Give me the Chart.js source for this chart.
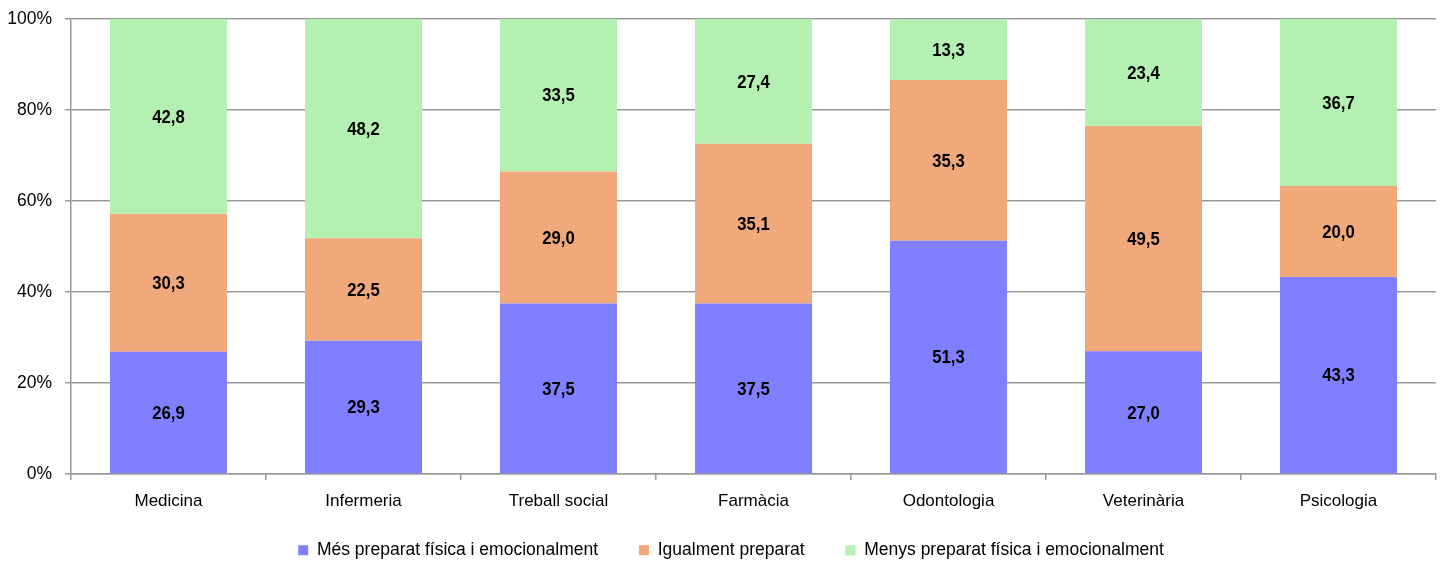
<!DOCTYPE html>
<html>
<head>
<meta charset="utf-8">
<script src="https://cdn.jsdelivr.net/npm/chart.js@4/dist/chart.umd.min.js"></script>
<style>
  html, body { margin: 0; padding: 0; background: #fff; }
  #wrap { width: 1446px; height: 565px; position: relative; }
</style>
</head>
<body>
<div id="wrap"><canvas id="grafic"></canvas></div>
<script>
// dades llegides del gràfic (%)
const categories = ["Medicina", "Infermeria", "Treball social", "Farmàcia", "Odontologia", "Veterinària", "Psicologia"];
const mesPreparat = [26.9, 29.3, 37.5, 37.5, 51.3, 27.0, 43.3];
const igualment = [30.3, 22.5, 29.0, 35.1, 35.3, 49.5, 20.0];
const menysPreparat = [42.8, 48.2, 33.5, 27.4, 13.3, 23.4, 36.7];
const yTicks = [0, 20, 40, 60, 80, 100];

const fontFamily = "'Liberation Sans Narrow', 'Arial Narrow', 'Liberation Sans', Arial, sans-serif";
const espaiLlegenda = '        '; // separació entre elements de la llegenda

// plugin per escriure el valor al mig de cada tram
const etiquetes = {
  id: 'etiquetes',
  afterDatasetsDraw(chart) {
    const ctx = chart.ctx;
    chart.data.datasets.forEach((ds, i) => {
      chart.getDatasetMeta(i).data.forEach((bar, j) => {
        const y = (bar.y + bar.base) / 2;
        ctx.save();
        ctx.translate(bar.x, y);
        ctx.scale(0.88, 1); // lletra estreta
        ctx.font = "bold 19px " + fontFamily;
        ctx.fillStyle = "#000";
        ctx.textAlign = "center";
        ctx.textBaseline = "middle";
        ctx.fillText(ds.data[j].toFixed(1).replace('.', ','), 0, 1);
        ctx.restore();
      });
    });
  }
};

// la llegenda de l'original està centrada sobre l'àrea del gràfic, no sobre el canvas
const moureLlegenda = {
  id: 'moureLlegenda',
  afterLayout(chart) {
    chart.legend.left += 13;
    chart.legend.right += 13;
  }
};

new Chart(document.getElementById('grafic'), {
  type: 'bar',
  data: {
    labels: categories,
    datasets: [
      { label: 'Més preparat física i emocionalment', data: mesPreparat, backgroundColor: '#7F7FFF' },
      { label: 'Igualment preparat', data: igualment, backgroundColor: '#F1A97B' },
      { label: 'Menys preparat física i emocionalment', data: menysPreparat, backgroundColor: '#B4F0B1' }
    ]
  },
  options: {
    responsive: true,
    maintainAspectRatio: false,
    animation: false,
    datasets: { bar: { barPercentage: 0.6, categoryPercentage: 1.0 } },
    layout: { padding: { top: 19, right: 10, left: 0, bottom: -4 } },
    plugins: {
      tooltip: { enabled: false },
      legend: {
        position: 'bottom',
        labels: {
          boxWidth: 10, boxHeight: 10, padding: 2,
          color: '#000',
          font: { family: fontFamily, size: 17.5 },
          generateLabels: chart => {
            const items = Chart.defaults.plugins.legend.labels.generateLabels(chart);
            items.forEach((it, k) => { if (k < items.length - 1) it.text += espaiLlegenda; });
            return items;
          }
        }
      }
    },
    scales: {
      x: {
        stacked: true,
        afterFit: s => { s.height += 17; },
        grid: { drawOnChartArea: false, drawTicks: true, tickLength: 6, color: '#999', lineWidth: 1.5 },
        border: { color: '#999', width: 1.5 },
        ticks: { color: '#000', font: { family: fontFamily, size: 17 }, padding: 11, maxRotation: 0 }
      },
      y: {
        stacked: true,
        min: 0, max: 100,
        afterBuildTicks: axis => { axis.ticks = yTicks.map(v => ({ value: v })); },
        afterFit: s => { s.width = 71; s.paddingTop = 0; s.paddingBottom = 0; },
        grid: { color: '#999', lineWidth: 1.5, tickLength: 6 },
        border: { color: '#999', width: 1.5 },
        ticks: {
          color: '#000', font: { family: fontFamily, size: 17.5 }, padding: 13,
          callback: v => v + '%'
        }
      }
    }
  },
  plugins: [etiquetes, moureLlegenda]
});
</script>
</body>
</html>
